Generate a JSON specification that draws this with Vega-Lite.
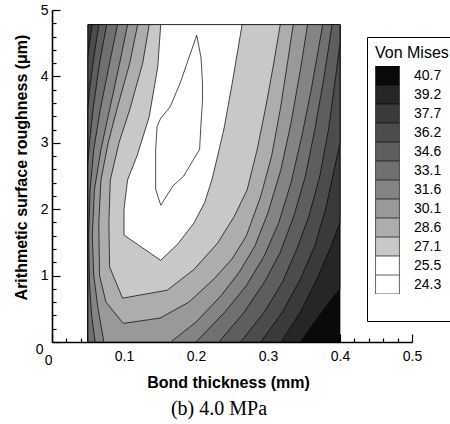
{
  "$schema": "https://vega.github.io/schema/vega-lite/v6.json",
  "autosize": {"type": "none"},
  "width": 360,
  "height": 332,
  "padding": {"left": 52, "top": 10, "right": 38, "bottom": 82},
  "background": "white",
  "config": {
    "view": {"stroke": null},
    "axis": {"zindex": 1, "domainColor": "black", "domainWidth": 1.6, "ticks": false, "grid": true, "gridColor": "black", "gridWidth": 1.2, "gridOpacity": 1, "labelColor": "black", "labelFont": "Liberation Sans", "labelFontSize": 14, "titleFont": "Liberation Sans", "titleFontSize": 16, "titleFontWeight": "bold", "titleColor": "black"}
  },
  "title": {"text": "(b) 4.0 MPa", "orient": "bottom", "font": "Liberation Serif", "fontSize": 20, "fontWeight": "normal", "color": "black", "offset": 9, "dx": -13},
  "datasets": {
    "poly": [
      {"L":"40.7","o":1,"x":0.05,"y":0},{"L":"40.7","o":2,"x":0.4,"y":0},{"L":"40.7","o":3,"x":0.4,"y":4.78},{"L":"40.7","o":4,"x":0.05,"y":4.78},{"L":"40.7","o":5,"x":0.05,"y":0},
      {"L":"39.2","o":1,"x":0.05,"y":4.78},{"L":"39.2","o":2,"x":0.05,"y":0},{"L":"39.2","o":3,"x":0.345,"y":0},{"L":"39.2","o":4,"x":0.365,"y":0.3},{"L":"39.2","o":5,"x":0.385,"y":0.6},{"L":"39.2","o":6,"x":0.4,"y":0.8},{"L":"39.2","o":7,"x":0.4,"y":4.78},{"L":"39.2","o":8,"x":0.05,"y":4.78},
      {"L":"37.7","o":1,"x":0.05,"y":4.78},{"L":"37.7","o":2,"x":0.05,"y":0},{"L":"37.7","o":3,"x":0.318,"y":0},{"L":"37.7","o":4,"x":0.345,"y":0.45},{"L":"37.7","o":5,"x":0.368,"y":0.95},{"L":"37.7","o":6,"x":0.388,"y":1.45},{"L":"37.7","o":7,"x":0.4,"y":1.8},{"L":"37.7","o":8,"x":0.4,"y":4.78},{"L":"37.7","o":9,"x":0.05,"y":4.78},
      {"L":"36.2","o":1,"x":0.056,"y":4.78},{"L":"36.2","o":2,"x":0.052,"y":4.5},{"L":"36.2","o":3,"x":0.05,"y":4.3},{"L":"36.2","o":4,"x":0.05,"y":0},{"L":"36.2","o":5,"x":0.29,"y":0},{"L":"36.2","o":6,"x":0.32,"y":0.45},{"L":"36.2","o":7,"x":0.345,"y":0.95},{"L":"36.2","o":8,"x":0.365,"y":1.45},{"L":"36.2","o":9,"x":0.38,"y":2.0},{"L":"36.2","o":10,"x":0.392,"y":2.6},{"L":"36.2","o":11,"x":0.4,"y":3.0},{"L":"36.2","o":12,"x":0.4,"y":4.78},{"L":"36.2","o":13,"x":0.056,"y":4.78},
      {"L":"34.6","o":1,"x":0.065,"y":4.78},{"L":"34.6","o":2,"x":0.057,"y":4.2},{"L":"34.6","o":3,"x":0.052,"y":3.8},{"L":"34.6","o":4,"x":0.05,"y":3.5},{"L":"34.6","o":5,"x":0.05,"y":0},{"L":"34.6","o":6,"x":0.262,"y":0},{"L":"34.6","o":7,"x":0.295,"y":0.45},{"L":"34.6","o":8,"x":0.32,"y":0.9},{"L":"34.6","o":9,"x":0.34,"y":1.4},{"L":"34.6","o":10,"x":0.357,"y":1.9},{"L":"34.6","o":11,"x":0.372,"y":2.5},{"L":"34.6","o":12,"x":0.384,"y":3.2},{"L":"34.6","o":13,"x":0.394,"y":4.0},{"L":"34.6","o":14,"x":0.4,"y":4.5},{"L":"34.6","o":15,"x":0.4,"y":4.78},{"L":"34.6","o":16,"x":0.065,"y":4.78},
      {"L":"33.1","o":1,"x":0.076,"y":4.78},{"L":"33.1","o":2,"x":0.066,"y":4.2},{"L":"33.1","o":3,"x":0.057,"y":3.5},{"L":"33.1","o":4,"x":0.052,"y":3.0},{"L":"33.1","o":5,"x":0.05,"y":2.7},{"L":"33.1","o":6,"x":0.05,"y":0},{"L":"33.1","o":7,"x":0.232,"y":0},{"L":"33.1","o":8,"x":0.267,"y":0.45},{"L":"33.1","o":9,"x":0.295,"y":0.9},{"L":"33.1","o":10,"x":0.317,"y":1.35},{"L":"33.1","o":11,"x":0.336,"y":1.9},{"L":"33.1","o":12,"x":0.352,"y":2.5},{"L":"33.1","o":13,"x":0.365,"y":3.2},{"L":"33.1","o":14,"x":0.378,"y":4.0},{"L":"33.1","o":15,"x":0.389,"y":4.78},{"L":"33.1","o":16,"x":0.076,"y":4.78},
      {"L":"31.6","o":1,"x":0.091,"y":4.78},{"L":"31.6","o":2,"x":0.08,"y":4.2},{"L":"31.6","o":3,"x":0.067,"y":3.5},{"L":"31.6","o":4,"x":0.058,"y":2.9},{"L":"31.6","o":5,"x":0.053,"y":2.3},{"L":"31.6","o":6,"x":0.051,"y":1.6},{"L":"31.6","o":7,"x":0.052,"y":0.9},{"L":"31.6","o":8,"x":0.055,"y":0.4},{"L":"31.6","o":9,"x":0.06,"y":0},{"L":"31.6","o":10,"x":0.2,"y":0},{"L":"31.6","o":11,"x":0.24,"y":0.45},{"L":"31.6","o":12,"x":0.27,"y":0.85},{"L":"31.6","o":13,"x":0.295,"y":1.3},{"L":"31.6","o":14,"x":0.315,"y":1.8},{"L":"31.6","o":15,"x":0.332,"y":2.4},{"L":"31.6","o":16,"x":0.347,"y":3.1},{"L":"31.6","o":17,"x":0.36,"y":3.8},{"L":"31.6","o":18,"x":0.376,"y":4.78},{"L":"31.6","o":19,"x":0.091,"y":4.78},
      {"L":"30.1","o":1,"x":0.105,"y":4.78},{"L":"30.1","o":2,"x":0.094,"y":4.2},{"L":"30.1","o":3,"x":0.08,"y":3.5},{"L":"30.1","o":4,"x":0.068,"y":2.9},{"L":"30.1","o":5,"x":0.059,"y":2.3},{"L":"30.1","o":6,"x":0.056,"y":1.6},{"L":"30.1","o":7,"x":0.058,"y":1.0},{"L":"30.1","o":8,"x":0.064,"y":0.5},{"L":"30.1","o":9,"x":0.072,"y":0},{"L":"30.1","o":10,"x":0.165,"y":0},{"L":"30.1","o":11,"x":0.2,"y":0.3},{"L":"30.1","o":12,"x":0.235,"y":0.7},{"L":"30.1","o":13,"x":0.26,"y":1.05},{"L":"30.1","o":14,"x":0.282,"y":1.45},{"L":"30.1","o":15,"x":0.3,"y":1.95},{"L":"30.1","o":16,"x":0.318,"y":2.6},{"L":"30.1","o":17,"x":0.332,"y":3.3},{"L":"30.1","o":18,"x":0.345,"y":4.1},{"L":"30.1","o":19,"x":0.355,"y":4.78},{"L":"30.1","o":20,"x":0.105,"y":4.78},
      {"L":"28.6","o":1,"x":0.119,"y":4.78},{"L":"28.6","o":2,"x":0.108,"y":4.2},{"L":"28.6","o":3,"x":0.09,"y":3.5},{"L":"28.6","o":4,"x":0.078,"y":3.0},{"L":"28.6","o":5,"x":0.068,"y":2.44},{"L":"28.6","o":6,"x":0.065,"y":1.8},{"L":"28.6","o":7,"x":0.066,"y":1.0},{"L":"28.6","o":8,"x":0.075,"y":0.6},{"L":"28.6","o":9,"x":0.099,"y":0.28},{"L":"28.6","o":10,"x":0.15,"y":0.36},{"L":"28.6","o":11,"x":0.19,"y":0.6},{"L":"28.6","o":12,"x":0.225,"y":0.95},{"L":"28.6","o":13,"x":0.25,"y":1.25},{"L":"28.6","o":14,"x":0.27,"y":1.6},{"L":"28.6","o":15,"x":0.29,"y":2.2},{"L":"28.6","o":16,"x":0.305,"y":2.8},{"L":"28.6","o":17,"x":0.317,"y":3.5},{"L":"28.6","o":18,"x":0.327,"y":4.2},{"L":"28.6","o":19,"x":0.335,"y":4.78},{"L":"28.6","o":20,"x":0.119,"y":4.78},
      {"L":"27.1","o":1,"x":0.135,"y":4.78},{"L":"27.1","o":2,"x":0.126,"y":4.2},{"L":"27.1","o":3,"x":0.108,"y":3.5},{"L":"27.1","o":4,"x":0.093,"y":3.0},{"L":"27.1","o":5,"x":0.081,"y":2.44},{"L":"27.1","o":6,"x":0.079,"y":1.8},{"L":"27.1","o":7,"x":0.08,"y":1.13},{"L":"27.1","o":8,"x":0.098,"y":0.66},{"L":"27.1","o":9,"x":0.16,"y":0.78},{"L":"27.1","o":10,"x":0.197,"y":1.09},{"L":"27.1","o":11,"x":0.23,"y":1.49},{"L":"27.1","o":12,"x":0.253,"y":1.89},{"L":"27.1","o":13,"x":0.271,"y":2.29},{"L":"27.1","o":14,"x":0.285,"y":2.9},{"L":"27.1","o":15,"x":0.298,"y":3.6},{"L":"27.1","o":16,"x":0.308,"y":4.2},{"L":"27.1","o":17,"x":0.317,"y":4.78},{"L":"27.1","o":18,"x":0.135,"y":4.78},
      {"L":"25.5","o":1,"x":0.151,"y":4.78},{"L":"25.5","o":2,"x":0.147,"y":4.15},{"L":"25.5","o":3,"x":0.135,"y":3.39},{"L":"25.5","o":4,"x":0.118,"y":2.8},{"L":"25.5","o":5,"x":0.105,"y":2.44},{"L":"25.5","o":6,"x":0.1,"y":2.0},{"L":"25.5","o":7,"x":0.1,"y":1.61},{"L":"25.5","o":8,"x":0.151,"y":1.23},{"L":"25.5","o":9,"x":0.175,"y":1.48},{"L":"25.5","o":10,"x":0.197,"y":1.79},{"L":"25.5","o":11,"x":0.212,"y":2.1},{"L":"25.5","o":12,"x":0.222,"y":2.44},{"L":"25.5","o":13,"x":0.23,"y":2.8},{"L":"25.5","o":14,"x":0.239,"y":3.22},{"L":"25.5","o":15,"x":0.25,"y":3.88},{"L":"25.5","o":16,"x":0.264,"y":4.78},{"L":"25.5","o":17,"x":0.151,"y":4.78},
      {"L":"24.3","o":1,"x":0.201,"y":4.62},{"L":"24.3","o":2,"x":0.207,"y":4.28},{"L":"24.3","o":3,"x":0.209,"y":3.9},{"L":"24.3","o":4,"x":0.209,"y":3.62},{"L":"24.3","o":5,"x":0.207,"y":3.3},{"L":"24.3","o":6,"x":0.205,"y":2.9},{"L":"24.3","o":7,"x":0.195,"y":2.72},{"L":"24.3","o":8,"x":0.183,"y":2.5},{"L":"24.3","o":9,"x":0.168,"y":2.35},{"L":"24.3","o":10,"x":0.151,"y":2.06},{"L":"24.3","o":11,"x":0.144,"y":2.3},{"L":"24.3","o":12,"x":0.144,"y":2.9},{"L":"24.3","o":13,"x":0.146,"y":3.25},{"L":"24.3","o":14,"x":0.151,"y":3.37},{"L":"24.3","o":15,"x":0.164,"y":3.54},{"L":"24.3","o":16,"x":0.178,"y":3.9},{"L":"24.3","o":17,"x":0.194,"y":4.4},{"L":"24.3","o":18,"x":0.201,"y":4.62}
    ]
  },
  "data": {"name": "poly"},
  "encoding": {
    "x": {"field": "x", "type": "quantitative", "scale": {"domain": [0, 0.5], "nice": false, "zero": false},
      "axis": {"title": "Bond thickness (mm)", "titleX": 176, "titleY": 45, "titleBaseline": "alphabetic", "titleAnchor": null,
        "values": [0,0.02,0.04,0.06,0.08,0.1,0.12,0.14,0.16,0.18,0.2,0.22,0.24,0.26,0.28,0.3,0.32,0.34,0.36,0.38,0.4,0.42,0.44,0.46,0.48,0.5],
        "labelExpr": "abs(datum.value*10-round(datum.value*10))<0.001 ? (datum.value==0 ? '0' : format(datum.value,'.1f')) : ''",
        "gridDash": {"condition": {"test": "abs(datum.value*10-round(datum.value*10))<0.001", "value": [0, 324, 8, 1000]}, "value": [0, 328, 4, 1000]},
        "labelAlign": {"condition": {"test": "datum.value == 0", "value": "right"}, "value": "center"},
        "labelPadding": {"condition": {"test": "datum.value == 0", "value": 11}, "value": 7},
        "labelFlush": false, "labelOverlap": false}},
    "y": {"field": "y", "type": "quantitative", "scale": {"domain": [0, 5], "nice": false},
      "axis": {"title": "Arithmetic surface roughness (μm)", "titleX": -26, "titleY": 157, "titleBaseline": "alphabetic", "titleAngle": -90, "titleAnchor": null,
        "values": [0,0.2,0.4,0.6,0.8,1,1.2,1.4,1.6,1.8,2,2.2,2.4,2.6,2.8,3,3.2,3.4,3.6,3.8,4,4.2,4.4,4.6,4.8,5],
        "labelExpr": "abs(datum.value-round(datum.value))<0.001 ? format(datum.value,'d') : ''",
        "gridDash": {"condition": {"test": "abs(datum.value-round(datum.value))<0.001", "value": [8, 1000]}, "value": [4, 1000]},
        "labelBaseline": {"condition": {"test": "datum.value == 0", "value": "top"}, "value": "middle"},
        "labelPadding": {"condition": {"test": "datum.value == 0", "value": 9}, "value": 4},
        "labelFlush": false, "labelOverlap": false}},
    "order": {"field": "o", "type": "quantitative"},
    "fill": {"field": "L", "type": "nominal",
      "scale": {"domain": ["40.7","39.2","37.7","36.2","34.6","33.1","31.6","30.1","28.6","27.1","25.5","24.3"," "],
                "range": ["#0a0a0a","#262626","#3a3a3a","#4c4c4c","#5e5e5e","#707070","#848484","#999999","#adadad","#c8c8c8","#ffffff","#ffffff","#ffffff"]},
      "legend": {"orient": "none", "legendX": 315, "legendY": 27, "title": "Von Mises", "titleFont": "Liberation Sans", "titleFontSize": 16, "titleFontWeight": "normal", "titleColor": "black", "titlePadding": 5,
        "symbolType": "M-1.3,-1.03H1.3V1.03H-1.3Z", "symbolSize": 338, "symbolStrokeColor": "black", "symbolStrokeWidth": 0.6, "symbolOpacity": 1, "symbolOffset": 3,
        "labelFont": "Liberation Sans", "labelFontSize": 14, "labelColor": "black", "labelOffset": 17,
        "clipHeight": 19, "rowPadding": 0, "padding": 8, "strokeColor": "black", "fillColor": "white",
        "encode": {"symbols": {"update": {"opacity": {"signal": "datum.value === ' ' ? 0 : 1"}}}}}}
  },
  "layer": [
    {"transform": [{"filter": "datum.L == '40.7'"}], "mark": {"type": "line", "stroke": "black", "strokeWidth": 0.7}},
    {"transform": [{"filter": "datum.L == '39.2'"}], "mark": {"type": "line", "stroke": "black", "strokeWidth": 0.7}},
    {"transform": [{"filter": "datum.L == '37.7'"}], "mark": {"type": "line", "stroke": "black", "strokeWidth": 0.7}},
    {"transform": [{"filter": "datum.L == '36.2'"}], "mark": {"type": "line", "stroke": "black", "strokeWidth": 0.7}},
    {"transform": [{"filter": "datum.L == '34.6'"}], "mark": {"type": "line", "stroke": "black", "strokeWidth": 0.7}},
    {"transform": [{"filter": "datum.L == '33.1'"}], "mark": {"type": "line", "stroke": "black", "strokeWidth": 0.7}},
    {"transform": [{"filter": "datum.L == '31.6'"}], "mark": {"type": "line", "stroke": "black", "strokeWidth": 0.7}},
    {"transform": [{"filter": "datum.L == '30.1'"}], "mark": {"type": "line", "stroke": "black", "strokeWidth": 0.7}},
    {"transform": [{"filter": "datum.L == '28.6'"}], "mark": {"type": "line", "stroke": "black", "strokeWidth": 0.7}},
    {"transform": [{"filter": "datum.L == '27.1'"}], "mark": {"type": "line", "stroke": "black", "strokeWidth": 0.7}},
    {"transform": [{"filter": "datum.L == '25.5'"}], "mark": {"type": "line", "stroke": "black", "strokeWidth": 0.7}},
    {"transform": [{"filter": "datum.L == '24.3'"}], "mark": {"type": "line", "stroke": "black", "strokeWidth": 0.7}}
  ]
}
